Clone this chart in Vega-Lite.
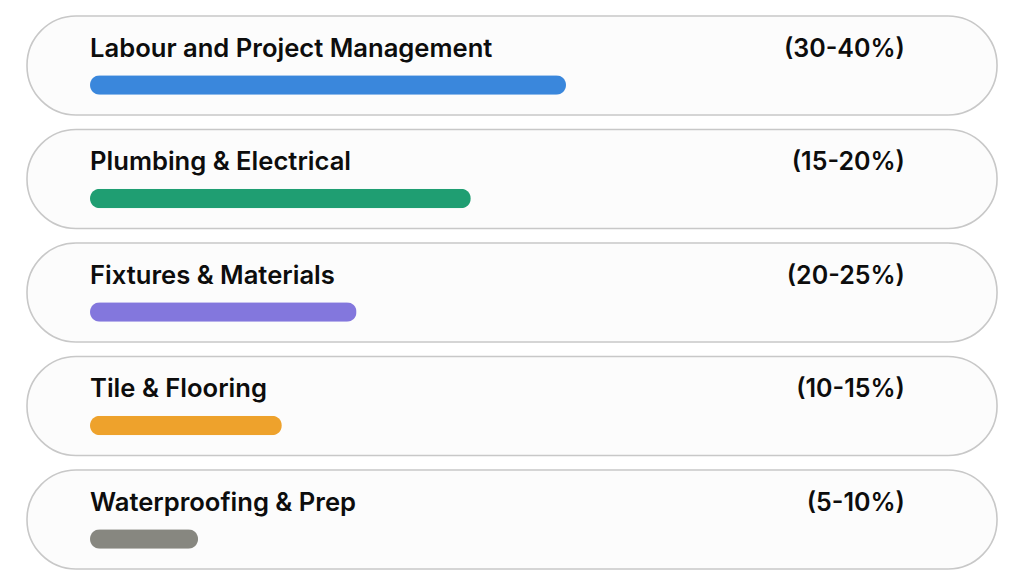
{
  "$schema": "https://vega.github.io/schema/vega-lite/v6.json",
  "width": 1024,
  "height": 553,
  "autosize": "none",
  "padding": {"left": 0, "right": 0, "top": 16, "bottom": 17},
  "background": "#ffffff",
  "config": {"view": {"stroke": null}, "font": "Inter"},
  "data": {
    "values": [
      {"category": "Labour and Project Management", "range": "(30-40%)", "bar": 100},
      {"category": "Plumbing & Electrical", "range": "(15-20%)", "bar": 80},
      {"category": "Fixtures & Materials", "range": "(20-25%)", "bar": 56},
      {"category": "Tile & Flooring", "range": "(10-15%)", "bar": 40.3},
      {"category": "Waterproofing & Prep", "range": "(5-10%)", "bar": 22.7}
    ]
  },
  "encoding": {
    "y": {"field": "category", "type": "nominal", "sort": null, "axis": null,
          "scale": {"paddingInner": 0.128, "paddingOuter": 0}}
  },
  "layer": [
    {
      "mark": {"type": "rect", "fill": "#fcfcfc", "stroke": "#c8c8c8", "strokeWidth": 1.6, "cornerRadius": 49},
      "encoding": {
        "x": {"datum": -13.235, "type": "quantitative",
              "scale": {"domain": [-18.908, 196.218], "nice": false, "zero": false}, "axis": null},
        "x2": {"datum": 190.55}
      }
    },
    {
      "mark": {"type": "bar", "height": 19.5, "yOffset": 19.5, "cornerRadius": 9.75},
      "encoding": {
        "x": {"field": "bar", "type": "quantitative"},
        "color": {"field": "category", "type": "nominal", "legend": null,
                  "scale": {"domain": ["Labour and Project Management", "Plumbing & Electrical", "Fixtures & Materials", "Tile & Flooring", "Waterproofing & Prep"],
                            "range": ["#3a87dc", "#1f9e72", "#8377dd", "#eea22c", "#878780"]}}
      }
    },
    {
      "mark": {"type": "text", "align": "left", "baseline": "middle", "yOffset": -16.8, "fontSize": 25.6, "fontWeight": 600, "color": "#0d0d0d", "font": "Inter"},
      "encoding": {
        "x": {"datum": 0, "type": "quantitative"},
        "text": {"field": "category"}
      }
    },
    {
      "mark": {"type": "text", "align": "right", "baseline": "middle", "yOffset": -16.8, "fontSize": 25, "fontWeight": 600, "color": "#0d0d0d", "font": "Inter"},
      "encoding": {
        "x": {"datum": 171.2, "type": "quantitative"},
        "text": {"field": "range"}
      }
    }
  ]
}
